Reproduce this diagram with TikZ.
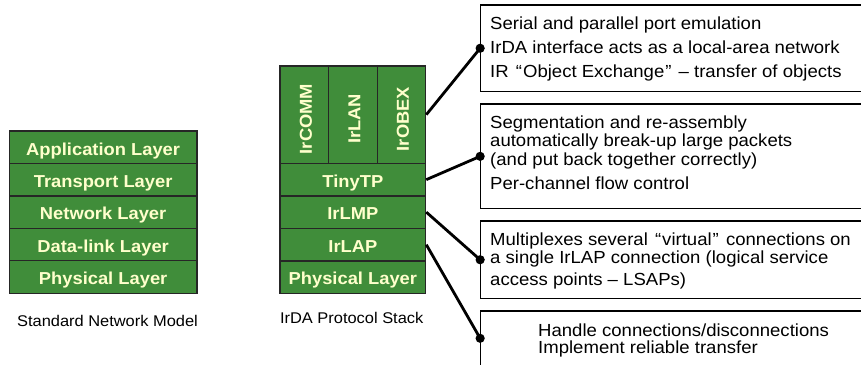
\documentclass[tikz,border=0pt]{standalone}
\usepackage{fontspec}
\setmainfont[FakeStretch=1.06]{Liberation Sans}
\definecolor{stackgreen}{RGB}{64,141,58}
\definecolor{stacktext}{RGB}{255,255,204}
\newcommand\layerfont{\fontsize{17.3}{20}\selectfont\bfseries}
\newcommand\boxfont{\fontsize{17.5}{21}\selectfont}
\newcommand\capfont{\fontsize{15.5}{18}\selectfont}
\newcommand\wlq{\hspace{2pt}“\hspace{1pt}}
\newcommand\wrq{\hspace{1pt}”\hspace{2pt}}
\tikzset{
  layer/.style={draw=black!85, line width=1.2pt, fill=stackgreen, text=stacktext,
    font=\layerfont, inner sep=0pt, text height=15.6pt, text depth=0pt},
  leftrow/.style={layer, minimum width=187.7pt, minimum height=32.46pt},
  midrow/.style={layer, minimum width=145.7pt, minimum height=32.5pt},
  colbox/.style={layer, minimum width=48.57pt, minimum height=97.3pt},
  vlabel/.style={rotate=90, anchor=base, text=stacktext, font=\layerfont, inner sep=0pt},
  rbox/.style={draw=black, line width=1.1pt, fill=white, minimum width=399.3pt, inner sep=0pt},
  bline/.style={font=\boxfont, anchor=base west, inner sep=0pt},
  capt/.style={font=\capfont, anchor=base, inner sep=0pt},
  conn/.style={line width=2.8pt, black},
  dot/.style={fill=black}
}
\begin{document}
\begin{tikzpicture}[x=1pt,y=-1pt]
\fill[white] (0,0) rectangle (861,364);
\useasboundingbox (0,0) rectangle (861,364);

% standard network model
\node[leftrow] (app)   at (103.15,147.23) {Application Layer};
\node[leftrow] (trans) at (103.15,179.69) {Transport Layer};
\node[leftrow] (net)   at (103.15,212.15) {Network Layer};
\node[leftrow] (dl)    at (103.15,244.61) {Data-link Layer};
\node[leftrow] (phys)  at (103.15,277.07) {Physical Layer};
\node[capt] (cap1) at (107.5,326.5) {Standard Network Model};

% IrDA stack
\node[colbox] (ircomm) at (304.29,114.65) {};
\node[colbox] (irlan)  at (352.86,114.65) {};
\node[colbox] (irobex) at (401.43,114.65) {};
\node[vlabel] (tcomm) at (311.8,119) {IrCOMM};
\node[vlabel] (tlan)  at (360.4,119) {IrLAN};
\node[vlabel] (tobex) at (408.9,119) {IrOBEX};
\node[midrow] (tinytp) at (352.85,179.65) {TinyTP};
\node[midrow] (irlmp)  at (352.85,212.15) {IrLMP};
\node[midrow] (irlap)  at (352.85,244.65) {IrLAP};
\node[midrow] (phys2)  at (352.85,277.15) {Physical Layer};
\node[capt] (cap2) at (351.7,323) {IrDA Protocol Stack};

% description boxes
\node[rbox, minimum height=86.5pt] (box1) at (680.35,48.25) {};
\node[rbox, minimum height=104.7pt] (box2) at (680.35,156.35) {};
\node[rbox, minimum height=77.5pt] (box3) at (680.35,259.75) {};
\node[rbox, minimum height=54.6pt] (box4) at (680.35,338.3) {};

\node[bline] (b1a) at (490,29.3) {Serial and parallel port emulation};
\node[bline] (b1b) at (490,53) {IrDA interface acts as a local-area network};
\node[bline] (b1c) at (490,77.3) {IR \wlq Object Exchange\wrq{} – transfer of objects};

\node[bline] (b2a) at (490,128.3) {Segmentation and re-assembly};
\node[bline] (b2b) at (490,146.7) {automatically break-up large packets};
\node[bline] (b2c) at (490,165) {(and put back together correctly)};
\node[bline] (b2d) at (490,189.3) {Per-channel flow control};

\node[bline] (b3a) at (490,245) {Multiplexes several \wlq virtual\wrq{} connections on};
\node[bline] (b3b) at (490,263) {a single IrLAP connection (logical service};
\node[bline] (b3c) at (490,285) {access points – LSAPs)};

\node[bline] (b4a) at (538,336) {Handle connections/disconnections};
\node[bline] (b4b) at (538,353) {Implement reliable transfer};

% connectors
\draw[conn] (irobex.east) -- (box1.west);
\draw[conn] (tinytp.east) -- (box2.west);
\draw[conn] (irlmp.east) -- (box3.west);
\draw[conn] (irlap.east) -- (box4.west);
\fill[dot] (box1.west) circle (4.6pt);
\fill[dot] (box2.west) circle (4.6pt);
\fill[dot] (box3.west) circle (4.6pt);
\fill[dot] (box4.west) circle (4.6pt);
\end{tikzpicture}
\end{document}
